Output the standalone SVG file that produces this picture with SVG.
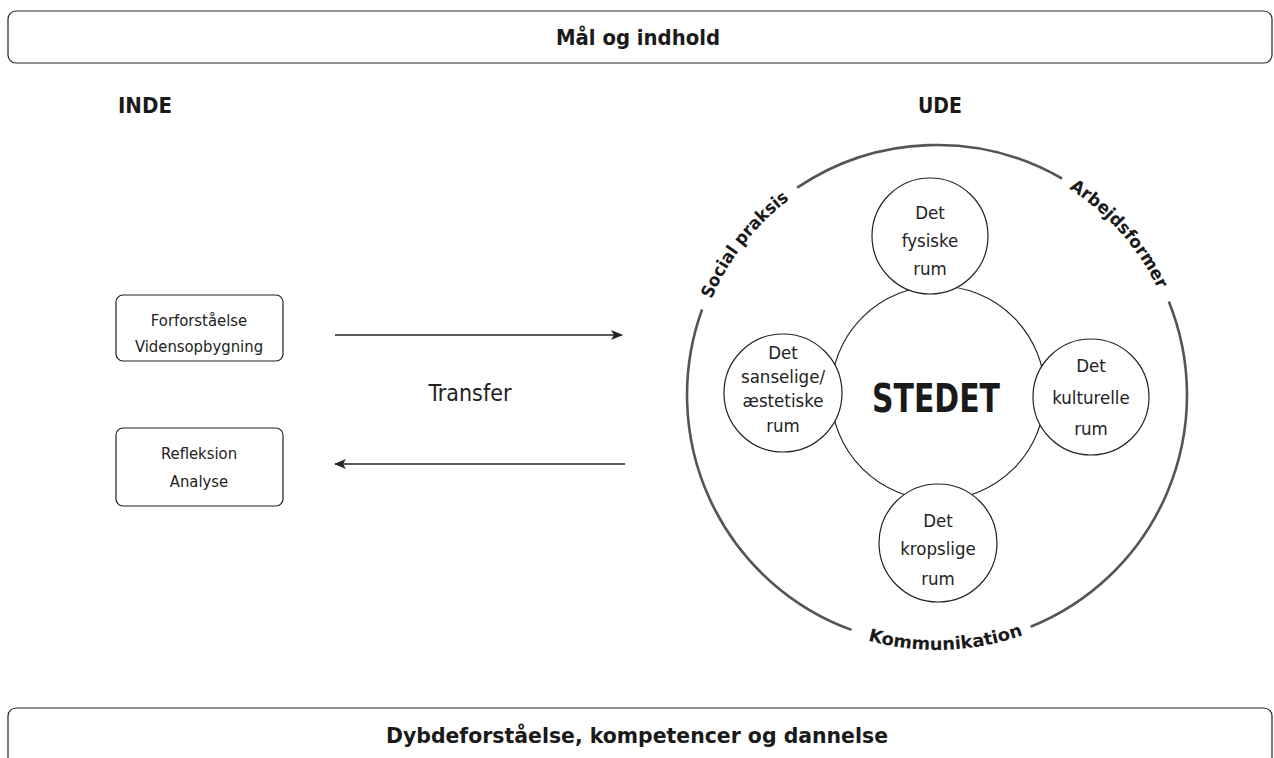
<svg xmlns="http://www.w3.org/2000/svg" width="1274" height="758" viewBox="0 0 1274 758">
<style>
.hdr{font-family:"DejaVu Sans Condensed","DejaVu Sans",sans-serif;font-stretch:condensed;font-weight:bold;font-size:21px;fill:#1a1a1a;text-anchor:middle}
.box{fill:#fff;stroke:#222;stroke-width:1.2}
.lbl{font-family:"DejaVu Sans Condensed","DejaVu Sans",sans-serif;font-stretch:condensed;font-size:16.5px;fill:#222;text-anchor:middle}
.cl{font-family:"DejaVu Sans Condensed","DejaVu Sans",sans-serif;font-stretch:condensed;font-size:18.5px;fill:#222;text-anchor:middle}
.circ{fill:#fff;stroke:#222;stroke-width:1.2}
.outer{fill:none;stroke:#555;stroke-width:2.6}
.arc{font-family:"DejaVu Sans Condensed","DejaVu Sans",sans-serif;font-stretch:condensed;font-weight:bold;font-size:17.5px;fill:#1a1a1a;text-anchor:middle}
.conn{stroke:#222;stroke-width:1.3;fill:none}
</style>
<defs>
<marker id="ah" viewBox="0 0 12 10" refX="11" refY="5" markerWidth="12" markerHeight="10" markerUnits="userSpaceOnUse" orient="auto">
<path d="M0,0 L12,5 L0,10 L3,5 Z" fill="#222"/>
</marker>
<path id="pSocial" d="M708.3,307.2 A245,245 0 0 1 796.5,194.3"/>
<path id="pArb" d="M1063.2,185 A245,245 0 0 1 1160.8,295.4"/>
<path id="pKom" d="M858.2,637.5 A255,255 0 0 0 1032.5,631.4"/>
</defs>
<rect width="1274" height="758" fill="#fff"/>

<g id="top-box">
<rect class="box" x="8" y="11" width="1264" height="52" rx="8"/>
<text class="hdr" x="638" y="45" textLength="164" lengthAdjust="spacingAndGlyphs">Mål og indhold</text>
</g>

<g id="inde"><text class="hdr" x="145" y="113" textLength="54" lengthAdjust="spacingAndGlyphs">INDE</text></g>
<g id="ude"><text class="hdr" x="940" y="113" textLength="44" lengthAdjust="spacingAndGlyphs">UDE</text></g>

<g id="box-forforstaaelse">
<rect class="box" x="116" y="295" width="167" height="66" rx="7"/>
<text class="lbl" x="199" y="326">Forforståelse</text>
<text class="lbl" x="199" y="352">Vidensopbygning</text>
</g>

<g id="box-refleksion">
<rect class="box" x="116" y="428" width="167" height="78" rx="7"/>
<text class="lbl" x="199" y="459">Refleksion</text>
<text class="lbl" x="199" y="487">Analyse</text>
</g>

<g id="connectors">
<line class="conn" x1="335" y1="335" x2="622" y2="335" marker-end="url(#ah)"/>
<line class="conn" x1="625" y1="464" x2="335" y2="464" marker-end="url(#ah)"/>
</g>

<g id="transfer"><text x="470" y="401" style="font-family:'DejaVu Sans Condensed','DejaVu Sans',sans-serif;font-stretch:condensed;font-size:23px;fill:#222;text-anchor:middle">Transfer</text></g>

<g id="outer-ring">
<path class="outer" d="M851.5,629.9 A250,250 0 0 1 702.1,309.5"/>
<path class="outer" d="M797.2,187.7 A250,250 0 0 1 1062,178.5"/>
<path class="outer" d="M1168.8,301.4 A250,250 0 0 1 1030.7,626.8"/>
<text class="arc"><textPath href="#pSocial" startOffset="50%" textLength="128" lengthAdjust="spacingAndGlyphs">Social praksis</textPath></text>
<text class="arc"><textPath href="#pArb" startOffset="50%" textLength="136" lengthAdjust="spacingAndGlyphs">Arbejdsformer</textPath></text>
<text class="arc"><textPath href="#pKom" startOffset="50%" textLength="158" lengthAdjust="spacingAndGlyphs">Kommunikation</textPath></text>
</g>

<g id="stedet">
<circle class="circ" cx="938" cy="393" r="107"/>
<text x="936" y="412" textLength="128" lengthAdjust="spacingAndGlyphs" style="font-family:'DejaVu Sans Condensed','DejaVu Sans',sans-serif;font-stretch:condensed;font-weight:bold;font-size:39px;fill:#1a1a1a;text-anchor:middle">STEDET</text>
</g>

<g id="fysiske">
<circle class="circ" cx="930" cy="236" r="58"/>
<text class="cl" x="930" y="219">Det</text>
<text class="cl" x="930" y="247">fysiske</text>
<text class="cl" x="930" y="275">rum</text>
</g>

<g id="sanselige">
<circle class="circ" cx="783" cy="393" r="59"/>
<text class="cl" x="783" y="359">Det</text>
<text class="cl" x="783" y="383">sanselige/</text>
<text class="cl" x="783" y="407">æstetiske</text>
<text class="cl" x="783" y="432">rum</text>
</g>

<g id="kulturelle">
<circle class="circ" cx="1091" cy="397" r="58"/>
<text class="cl" x="1091" y="372">Det</text>
<text class="cl" x="1091" y="404">kulturelle</text>
<text class="cl" x="1091" y="435">rum</text>
</g>

<g id="kropslige">
<circle class="circ" cx="938" cy="543" r="59"/>
<text class="cl" x="938" y="527">Det</text>
<text class="cl" x="938" y="555">kropslige</text>
<text class="cl" x="938" y="585">rum</text>
</g>

<g id="bottom-box">
<rect class="box" x="8" y="708" width="1264" height="62" rx="8"/>
<text class="hdr" x="637" y="743" textLength="502" lengthAdjust="spacingAndGlyphs">Dybdeforståelse, kompetencer og dannelse</text>
</g>
</svg>
